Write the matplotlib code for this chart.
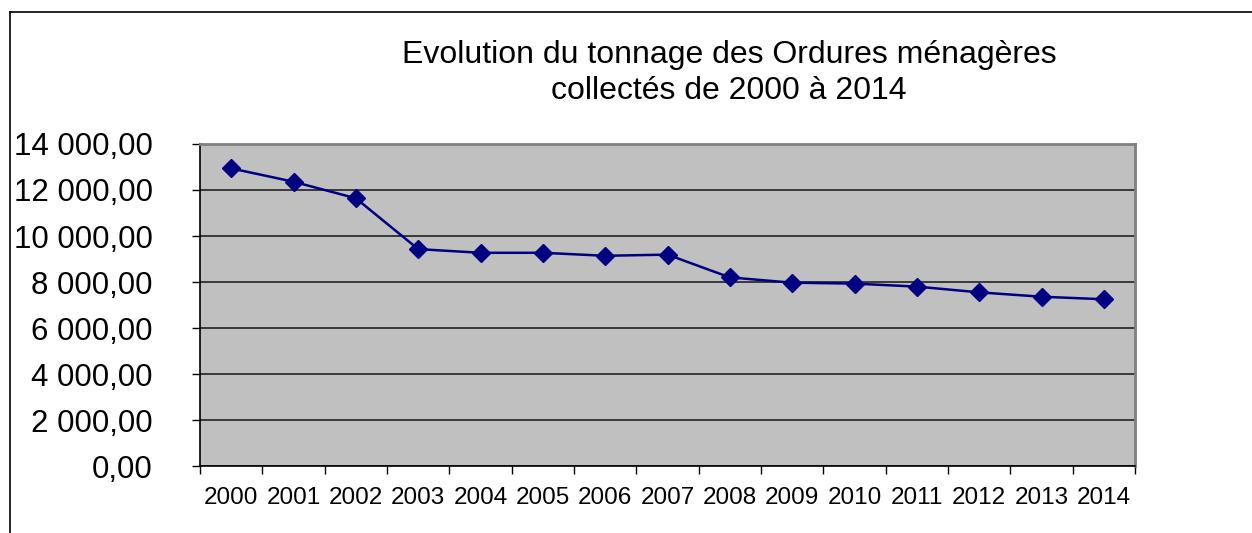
import matplotlib.pyplot as plt
from matplotlib.lines import Line2D
from matplotlib.ticker import FuncFormatter, FixedLocator

plt.rcParams["font.family"] = ["Liberation Sans", "DejaVu Sans"]

years = [str(y) for y in range(2000, 2015)]
tonnage = [12940, 12360, 11640, 9430, 9270, 9270, 9140, 9190,
           8200, 7970, 7930, 7800, 7550, 7360, 7250]
title = "Evolution du tonnage des Ordures ménagères\ncollectés de 2000 à 2014"

W, H = 1252, 533
fig = plt.figure(figsize=(W / 100, H / 100), dpi=100)

# outer chart frame (left + top edges visible)
fig.add_artist(Line2D([10 / W, 10 / W], [0, 1 - 12 / H], color="black", lw=1.2))
fig.add_artist(Line2D([10 / W, 1], [1 - 12 / H, 1 - 12 / H], color="black", lw=1.2))

ax = fig.add_axes([200 / W, 1 - 466 / H, (1135 - 200) / W, (466 - 144) / H])
ax.set_facecolor("#c0c0c0")

x = list(range(len(years)))
ax.plot(x, tonnage, color="#000080", lw=1.8, marker="D", ms=9.5, zorder=3)

ax.set_xlim(-0.5, len(years) - 0.5)
ax.set_ylim(0, 14000)
ax.set_yticks(range(0, 14001, 2000))
ax.yaxis.set_major_formatter(
    FuncFormatter(lambda v, p: f"{v:,.2f}".replace(",", " ").replace(".", ","))
)
ax.grid(axis="y", color="#222222", lw=1.2)
ax.set_axisbelow(True)

ax.set_xticks(x)
ax.set_xticklabels(years, fontsize=17.5)
ax.xaxis.set_minor_locator(FixedLocator([i + 0.5 for i in range(-1, len(years))]))
ax.tick_params(axis="x", which="major", length=0, pad=15)
ax.tick_params(axis="x", which="minor", length=6, width=1, color="black")
ax.tick_params(axis="y", length=6, width=1, labelsize=22.5, pad=28)

for s in ["left", "bottom"]:
    ax.spines[s].set_color("black")
    ax.spines[s].set_linewidth(1.2)
for s in ["top", "right"]:
    ax.spines[s].set_color("#808080")
    ax.spines[s].set_linewidth(2)

fig.text(729 / W, 1 - 73 / H, title, ha="center", va="center",
         fontsize=23, linespacing=1.25)

fig.savefig("out.png", dpi=100, facecolor="white")
